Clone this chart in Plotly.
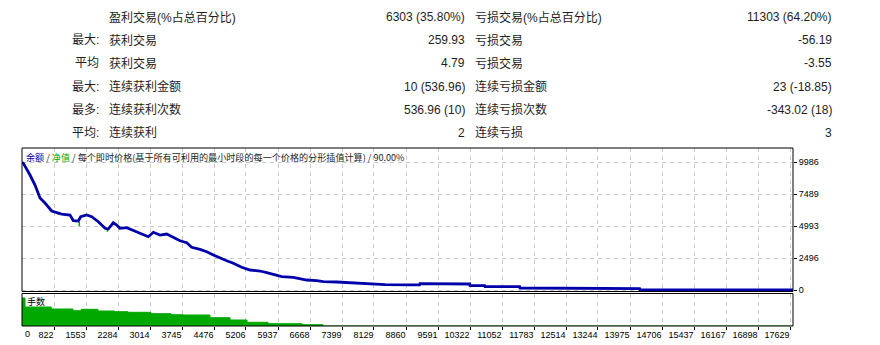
import plotly.graph_objects as go

# ---------------- data ----------------
row_prefix = ["", "最大:", "平均", "最大:", "最多:", "平均:"]
left_names = ["盈利交易(%占总百分比)", "获利交易", "获利交易", "连续获利金额", "连续获利次数", "连续获利"]
left_values = ["6303 (35.80%)", "259.93", "4.79", "10 (536.96)", "536.96 (10)", "2"]
right_names = ["亏损交易(%占总百分比)", "亏损交易", "亏损交易", "连续亏损金额", "连续亏损次数", "连续亏损"]
right_values = ["11303 (64.20%)", "-56.19", "-3.55", "23 (-18.85)", "-343.02 (18)", "3"]

balance_trade = [0, 120, 274, 388, 502, 616, 769, 998, 1187, 1263, 1377, 1432, 1569, 1683,
                 1834, 1987, 2062, 2176, 2254, 2329, 2482, 2633, 2786, 2975, 3090, 3243, 3395,
                 3546, 3699, 3852, 3966, 4156, 4309, 4460, 4574, 4766, 4917, 5109, 5298, 5527,
                 5679, 5869, 6022, 6287, 6440, 6592, 6821, 6972, 7278, 7543, 7924, 8381, 8951,
                 9170, 9180, 10040, 10048, 10315, 10322, 10655, 10664, 11455, 11463, 12530,
                 12537, 14195, 14204, 17700]
balance_value = [10000, 9900, 8970, 8190, 7176, 6786, 6162, 5928, 5850, 5405, 5382, 5717, 5850, 5717,
                 5327, 4813, 4758, 5249, 5070, 4813, 4859, 4625, 4423, 4157, 4501, 4290, 4368,
                 4111, 3845, 3689, 3331, 3175, 2987, 2730, 2551, 2285, 2083, 1771, 1560, 1482,
                 1349, 1170, 1037, 991, 913, 780, 725, 647, 624, 569, 491, 413, 400,
                 400, 491, 491, 468, 468, 335, 335, 257, 257, 156, 156,
                 110, 110, 15, 15]

equity_dip_trade = [920, 1400, 2040]
equity_dip_high = [5980, 5330, 4810]
equity_dip_low = [5880, 5000, 4550]

volume_trade = [0, 160, 760, 1256, 1445, 1827, 2208, 2512, 3037, 3494, 3768, 4384, 4841,
                5229, 5709, 6485, 6965, 17700]
volume_lots = [2.8, 1.9, 1.7, 1.53, 1.67, 1.5, 1.43, 1.37, 1.23, 1.13, 1.1, 0.83, 0.6,
               0.37, 0.23, 0.13, 0, 0]

x_tick_labels = ["0", "822", "1553", "2284", "3014", "3745", "4476", "5206", "5937", "6668",
                 "7399", "8129", "8860", "9591", "10322", "11052", "11783", "12514", "13244",
                 "13975", "14706", "15437", "16167", "16898", "17629"]
y_tick_labels = ["0", "2496", "4993", "7489", "9986"]

# ---------------- layout helpers ----------------
W, H = 880, 345
L, R, T, B = 22, 793, 148, 326


def px_x(p):
    return (p - L) / (R - L)


def px_y(p):
    return (B - p) / (B - T)


BLUE = "#0000aa"
GREEN = "#00a800"
GRID = "#c8c8c8"
TXT = "#1e1e1e"
FONT = "Liberation Sans, Noto Sans CJK SC, sans-serif"
CJK = "Noto Sans CJK SC, sans-serif"

fig = go.Figure()

# equity dips (green) drawn under balance
eq_x, eq_y = [], []
for t, hi, lo in zip(equity_dip_trade, equity_dip_high, equity_dip_low):
    eq_x += [t, t, None]
    eq_y += [hi, lo, None]
fig.add_trace(go.Scatter(x=eq_x, y=eq_y, mode="lines", line=dict(color=GREEN, width=1.5),
                         xaxis="x", yaxis="y", hoverinfo="skip", showlegend=False))

fig.add_trace(go.Scatter(x=balance_trade, y=balance_value, mode="lines",
                         line=dict(color=BLUE, width=2.8), xaxis="x", yaxis="y",
                         showlegend=False))

fig.add_trace(go.Scatter(x=volume_trade, y=volume_lots, mode="lines", line_shape="hv",
                         fill="tozeroy", fillcolor=GREEN, line=dict(color=GREEN, width=1),
                         xaxis="x", yaxis="y2", showlegend=False))

x_tickvals = [int(s) for s in x_tick_labels[1:]]
y_tickvals = [int(s) for s in y_tick_labels]

main_bottom = px_y(291.5)
vol_top = px_y(293.5)

fig.update_layout(
    width=W, height=H, template="none",
    margin=dict(l=L, r=W - R, t=T, b=H - B, pad=0),
    paper_bgcolor="white", plot_bgcolor="white",
    showlegend=False,
    xaxis=dict(
        domain=[0, 1], range=[91.2, 17697], anchor="y2",
        tickmode="array", tickvals=x_tickvals, ticktext=x_tick_labels[1:],
        ticklabelposition="outside left", tickangle=0,
        ticks="outside", ticklen=3, tickcolor="black", tickwidth=1,
        showgrid=True, gridcolor=GRID, griddash="4px,4px", gridwidth=1,
        zeroline=False, showline=False, automargin=False,
        tickfont=dict(family=FONT, size=9, color="black"),
    ),
    yaxis=dict(
        domain=[main_bottom, 1], range=[-117, 11079], side="right", anchor="x",
        tickmode="array", tickvals=y_tickvals, ticktext=y_tick_labels,
        ticks="outside", ticklen=3, tickcolor="black", tickwidth=1,
        showgrid=True, gridcolor=GRID, griddash="4px,4px", gridwidth=1,
        zeroline=False, showline=False, automargin=False,
        tickfont=dict(family=FONT, size=9, color="black"),
    ),
    yaxis2=dict(
        domain=[0, vol_top], range=[0, 3.25], anchor="x",
        showticklabels=False, ticks="", showgrid=False, zeroline=False,
        showline=False, automargin=False,
    ),
)

# panel borders
fig.add_shape(type="rect", xref="paper", yref="paper", x0=0, x1=1, y0=main_bottom, y1=1,
              line=dict(color="black", width=1), fillcolor="rgba(0,0,0,0)", layer="above")
fig.add_shape(type="rect", xref="paper", yref="paper", x0=0, x1=1, y0=0, y1=vol_top,
              line=dict(color="black", width=1), fillcolor="rgba(0,0,0,0)", layer="above")

ann = []
# statistics table
for i in range(6):
    yy = px_y(17.3 + 23.07 * i)
    if row_prefix[i]:
        ann.append(dict(x=px_x(101), y=yy, text=row_prefix[i], xanchor="right"))
    ann.append(dict(x=px_x(107), y=yy, text=left_names[i], xanchor="left"))
    ann.append(dict(x=px_x(467), y=yy, text=left_values[i], xanchor="right"))
    ann.append(dict(x=px_x(473), y=yy, text=right_names[i], xanchor="left"))
    ann.append(dict(x=px_x(834), y=yy, text=right_values[i], xanchor="right"))
for a in ann:
    a.update(xref="paper", yref="paper", yanchor="middle", showarrow=False,
             font=dict(family=FONT, size=12, color=TXT))

header = (f'<span style="color:{BLUE}">余额</span> / '
          f'<span style="color:{GREEN}">净值</span> / '
          '每个即时价格(基于所有可利用的最小时段的每一个价格的分形插值计算) / 90.00%')
ann.append(dict(x=px_x(24), y=px_y(156.5), xref="paper", yref="paper", text=header,
                xanchor="left", yanchor="middle", showarrow=False,
                font=dict(family=CJK, size=9.1, color=TXT)))
ann.append(dict(x=px_x(25), y=px_y(301.5), xref="paper", yref="paper", text="手数",
                xanchor="left", yanchor="middle", showarrow=False,
                font=dict(family=CJK, size=9, color="black")))
ann.append(dict(x=px_x(22.5), y=px_y(333.5), xref="paper", yref="paper", text=x_tick_labels[0],
                xanchor="left", yanchor="middle", showarrow=False,
                font=dict(family=FONT, size=9, color="black")))
fig.update_layout(annotations=ann)

fig.write_html("out.html")
